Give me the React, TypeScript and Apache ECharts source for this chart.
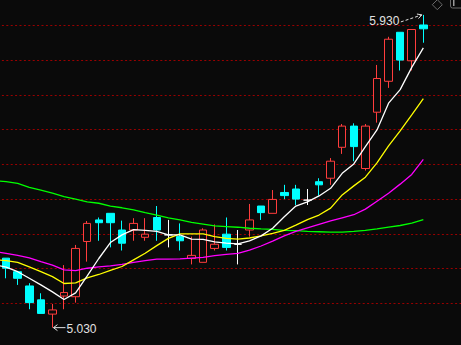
import { useEffect, useRef } from 'react';
import * as echarts from 'echarts';

// ---- data ----
// index 0 of the MA arrays is the trading day just before the first visible candle
const categories = Array.from({ length: 41 }, (_, i) => `D${i}`);

// [open, close, low, high]
const candles: number[][] = [
  [5.230, 5.201, 5.172, 5.230],
  [5.191, 5.172, 5.153, 5.191],
  [5.150, 5.102, 5.083, 5.158],
  [5.110, 5.071, 5.071, 5.129],
  [5.069, 5.081, 5.030, 5.098],
  [5.121, 5.131, 5.083, 5.210],
  [5.119, 5.258, 5.102, 5.268],
  [5.278, 5.330, 5.220, 5.337],
  [5.340, 5.332, 5.280, 5.347],
  [5.359, 5.332, 5.261, 5.359],
  [5.311, 5.273, 5.252, 5.338],
  [5.311, 5.330, 5.280, 5.345],
  [5.290, 5.299, 5.280, 5.345],
  [5.347, 5.311, 5.280, 5.380],
  [5.297, 5.297, 5.261, 5.340],
  [5.292, 5.280, 5.252, 5.330],
  [5.229, 5.238, 5.212, 5.292],
  [5.218, 5.311, 5.218, 5.316],
  [5.258, 5.270, 5.252, 5.327],
  [5.299, 5.261, 5.252, 5.347],
  [5.270, 5.270, 5.212, 5.311],
  [5.311, 5.340, 5.292, 5.386],
  [5.380, 5.361, 5.340, 5.380],
  [5.359, 5.399, 5.359, 5.426],
  [5.419, 5.410, 5.400, 5.441],
  [5.429, 5.400, 5.383, 5.441],
  [5.397, 5.397, 5.383, 5.429],
  [5.450, 5.441, 5.410, 5.460],
  [5.460, 5.509, 5.441, 5.518],
  [5.549, 5.610, 5.530, 5.616],
  [5.610, 5.551, 5.509, 5.618],
  [5.488, 5.610, 5.482, 5.616],
  [5.650, 5.747, 5.620, 5.786],
  [5.739, 5.860, 5.720, 5.867],
  [5.880, 5.800, 5.770, 5.880],
  [5.798, 5.888, 5.770, 5.888],
  [5.901, 5.890, 5.850, 5.930],
];

const ma5 = [5.211, 5.204, 5.191, 5.172, 5.153, 5.133, 5.111, 5.130, 5.179, 5.229, 5.275, 5.297, 5.312, 5.310, 5.307, 5.297, 5.297, 5.285, 5.284, 5.277, 5.273, 5.271, 5.280, 5.294, 5.316, 5.349, 5.380, 5.392, 5.409, 5.431, 5.474, 5.501, 5.551, 5.599, 5.676, 5.715, 5.779, 5.835];
const ma10 = [5.226, 5.223, 5.218, 5.205, 5.191, 5.177, 5.157, 5.159, 5.173, 5.183, 5.195, 5.206, 5.225, 5.244, 5.266, 5.287, 5.300, 5.300, 5.300, 5.292, 5.287, 5.285, 5.288, 5.294, 5.301, 5.310, 5.325, 5.341, 5.354, 5.374, 5.412, 5.438, 5.463, 5.504, 5.553, 5.596, 5.642, 5.689];
const ma20 = [5.249, 5.244, 5.238, 5.231, 5.220, 5.210, 5.196, 5.194, 5.201, 5.205, 5.208, 5.212, 5.218, 5.223, 5.227, 5.227, 5.228, 5.230, 5.232, 5.237, 5.241, 5.244, 5.253, 5.265, 5.279, 5.294, 5.307, 5.317, 5.327, 5.337, 5.346, 5.355, 5.371, 5.394, 5.417, 5.443, 5.471, 5.514];
const ma60 = [5.453, 5.450, 5.445, 5.434, 5.426, 5.417, 5.407, 5.400, 5.392, 5.388, 5.380, 5.375, 5.369, 5.361, 5.354, 5.346, 5.340, 5.333, 5.328, 5.323, 5.321, 5.319, 5.316, 5.314, 5.313, 5.310, 5.309, 5.307, 5.306, 5.305, 5.305, 5.307, 5.310, 5.314, 5.319, 5.324, 5.331, 5.341];

const yMin = 5.1;
const yMax = 5.9;
const yStep = 0.1;

// ---- styles ----
const BG = '#0a0a0a';
const RED = '#ff3d3d';
const CYAN = '#00ffff';
const GRID = '#9a0000';
const TEXT = '#e2e2e2';
const ICON = '#6a6a6a';

export default function App() {
  const ref = useRef<HTMLDivElement>(null);

  useEffect(() => {
    if (!ref.current) return;
    const chart = echarts.init(ref.current, null, { renderer: 'svg' });

    const candleData: any[] = [['-', '-', '-', '-']].concat(
      candles.map(([o, c, l, h]) =>
        o === c
          ? ({
              value: [o, c, l, h],
              itemStyle: { borderColor: '#ffffff', borderColor0: '#ffffff', color: BG, color0: BG },
            } as any)
          : [o, c, l, h]
      )
    );

    const line = (data: number[], color: string) => ({
      type: 'line',
      data,
      symbol: 'none',
      silent: true,
      clip: false,
      smooth: false,
      lineStyle: { color, width: 1.3 },
      z: 3,
    });

    chart.setOption({
      animation: false,
      backgroundColor: BG,
      grid: {
        left: -11.29,
        top: 25.33,
        width: 41 * 11.59,
        height: (yMax - yMin) * 347.5,
        outerBoundsMode: 'none',
        containLabel: false,
      },
      xAxis: {
        type: 'category',
        data: categories,
        boundaryGap: true,
        axisLine: { show: false },
        axisTick: { show: false },
        axisLabel: { show: false },
        splitLine: { show: false },
      },
      yAxis: {
        type: 'value',
        min: yMin,
        max: yMax,
        interval: yStep,
        axisLine: { show: false },
        axisTick: { show: false },
        axisLabel: { show: false },
        splitLine: { show: true, lineStyle: { color: GRID, width: 1, type: [2, 2.4] } },
      },
      series: [
        {
          type: 'candlestick',
          data: candleData,
          barWidth: 8,
          clip: false,
          silent: true,
          z: 2,
          itemStyle: {
            color: BG,
            color0: CYAN,
            borderColor: RED,
            borderColor0: CYAN,
            borderColorDoji: '#ffffff',
            borderWidth: 1,
          },
        },
        line(ma60, '#00ff00'),
        line(ma20, '#ff00ff'),
        line(ma10, '#ffff00'),
        line(ma5, '#ffffff'),
      ],
    });

    // annotations for highest high and lowest low
    let hiIdx = 0;
    let loIdx = 0;
    candles.forEach((c, i) => {
      if (c[3] > candles[hiIdx][3]) hiIdx = i;
      if (c[2] < candles[loIdx][2]) loIdx = i;
    });
    const hiVal = candles[hiIdx][3];
    const loVal = candles[loIdx][2];
    const [hx, hy] = chart.convertToPixel({ gridIndex: 0 }, [hiIdx + 1, hiVal]) as number[];
    const [lx, ly] = chart.convertToPixel({ gridIndex: 0 }, [loIdx + 1, loVal]) as number[];

    const tip = [hx - 1.5, hy];
    const start = [hx - 22.5, hy + 7];
    const dx = tip[0] - start[0];
    const dy = tip[1] - start[1];
    const len = Math.hypot(dx, dy);
    const ux = dx / len;
    const uy = dy / len;
    const head = (ang: number) => [
      tip[0] - 5 * (ux * Math.cos(ang) - uy * Math.sin(ang)),
      tip[1] - 5 * (uy * Math.cos(ang) + ux * Math.sin(ang)),
    ];

    const ltip = [lx + 1, ly];

    chart.setOption({
      graphic: [
        {
          type: 'line',
          silent: true,
          shape: { x1: start[0], y1: start[1], x2: tip[0], y2: tip[1] },
          style: { stroke: TEXT, lineWidth: 1, lineDash: [3, 2] },
        },
        {
          type: 'polyline',
          silent: true,
          shape: { points: [head(0.5), tip, head(-0.5)] },
          style: { stroke: TEXT, lineWidth: 1, fill: null },
        },
        {
          type: 'text',
          silent: true,
          x: hx - 24,
          y: hy + 6,
          style: {
            text: hiVal.toFixed(3),
            fill: TEXT,
            font: '12px "Liberation Sans", Arial, sans-serif',
            align: 'right',
            verticalAlign: 'middle',
          },
        },
        {
          type: 'line',
          silent: true,
          shape: { x1: ltip[0], y1: ltip[1], x2: lx + 13, y2: ly },
          style: { stroke: TEXT, lineWidth: 1 },
        },
        {
          type: 'polyline',
          silent: true,
          shape: { points: [[ltip[0] + 4, ltip[1] - 3], ltip, [ltip[0] + 4, ltip[1] + 3]] },
          style: { stroke: TEXT, lineWidth: 1, fill: null },
        },
        {
          type: 'text',
          silent: true,
          x: lx + 14,
          y: ly + 1,
          style: {
            text: loVal.toFixed(3),
            fill: TEXT,
            font: '12px "Liberation Sans", Arial, sans-serif',
            align: 'left',
            verticalAlign: 'middle',
          },
        },
        // toolbar icons at top-right
        {
          type: 'polygon',
          silent: true,
          shape: { points: [[437.3, -0.3], [442.3, 4.7], [437.3, 9.7], [432.3, 4.7]] },
          style: { stroke: ICON, lineWidth: 1, fill: null },
        },
        {
          type: 'rect',
          silent: true,
          shape: { x: 450.5, y: -4, width: 16, height: 12, r: 2 },
          style: { stroke: ICON, lineWidth: 1, fill: null },
        },
        {
          type: 'rect',
          silent: true,
          shape: { x: 453, y: 0, width: 1.5, height: 6 },
          style: { fill: '#9a9a9a' },
        },
      ],
    });

    return () => chart.dispose();
  }, []);

  return (
    <div
      ref={ref}
      style={{ position: 'fixed', left: 0, top: 0, width: 461, height: 345 }}
    />
  );
}
